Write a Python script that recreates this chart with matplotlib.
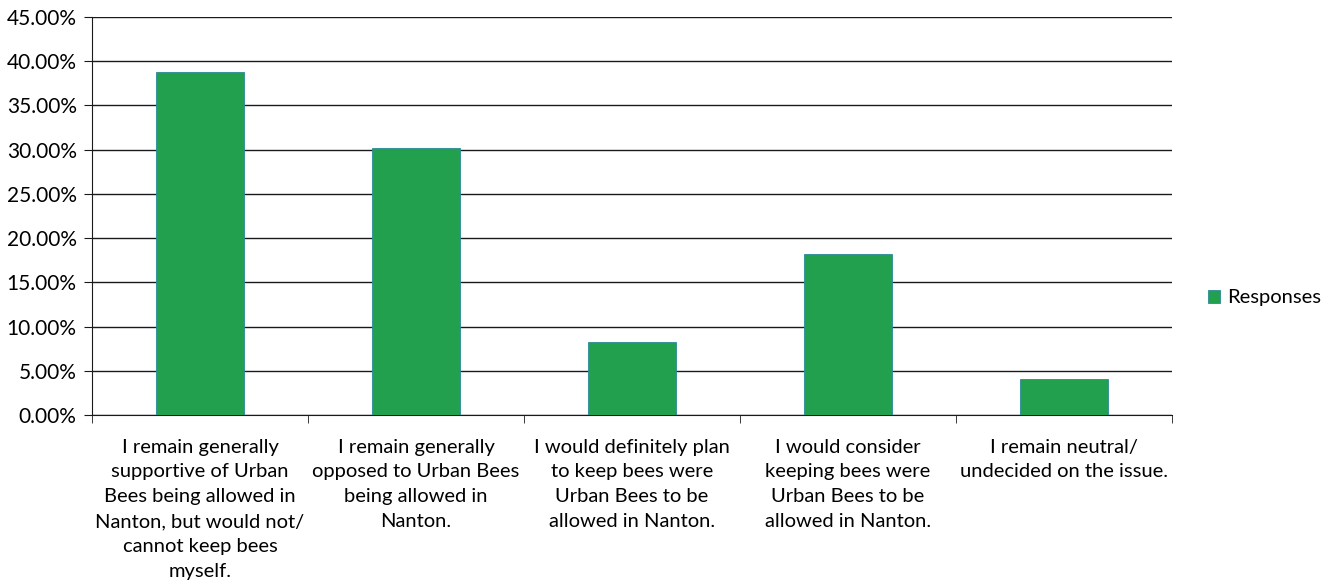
import matplotlib.pyplot as plt
import numpy as np
from matplotlib.ticker import FuncFormatter, FixedLocator

plt.rcParams['font.family'] = ['Lato', 'DejaVu Sans']

categories = [
    "I remain generally\nsupportive of Urban\nBees being allowed in\nNanton, but would not/\ncannot keep bees\nmyself.",
    "I remain generally\nopposed to Urban Bees\nbeing allowed in\nNanton.",
    "I would definitely plan\nto keep bees were\nUrban Bees to be\nallowed in Nanton.",
    "I would consider\nkeeping bees were\nUrban Bees to be\nallowed in Nanton.",
    "I remain neutral/\nundecided on the issue.",
]
responses = [38.8, 30.2, 8.3, 18.2, 4.1]

fig = plt.figure(figsize=(13.35, 5.86), dpi=100)
ax = fig.add_axes([92/1335, 171/586, 1080/1335, 398/586])

x = np.arange(len(categories))
ax.bar(x, responses, width=0.41, color='#23a04e', edgecolor='#2a8a9a',
       linewidth=0.6, label='Responses', zorder=3)

ax.set_xlim(-0.5, len(categories) - 0.5)
ax.set_ylim(0, 45)
ax.set_yticks(np.arange(0, 46, 5))
ax.yaxis.set_major_formatter(FuncFormatter(lambda v, p: f"{v:.2f}%"))
ax.grid(axis='y', color='#1a1a1a', linewidth=1.0, zorder=0)

ax.set_xticks(x)
ax.set_xticklabels(categories, fontsize=14.5, linespacing=1.56)
ax.tick_params(axis='x', length=0, pad=17)
ax.xaxis.set_minor_locator(FixedLocator(np.arange(-0.5, len(categories), 1.0)))
ax.tick_params(axis='x', which='minor', length=6, direction='out', color='#1a1a1a')
ax.tick_params(axis='y', labelsize=15, length=6, direction='out', color='#1a1a1a', pad=5)

for s in ['top', 'right']:
    ax.spines[s].set_visible(False)
ax.spines['left'].set_color('#1a1a1a')
ax.spines['bottom'].set_color('#1a1a1a')

leg = ax.legend(loc='center left', bbox_to_anchor=(1.017, 0.294), frameon=False,
                fontsize=14.5, handlelength=0.55, handleheight=0.6, handletextpad=0.4)

plt.savefig("out.png", dpi=100)
